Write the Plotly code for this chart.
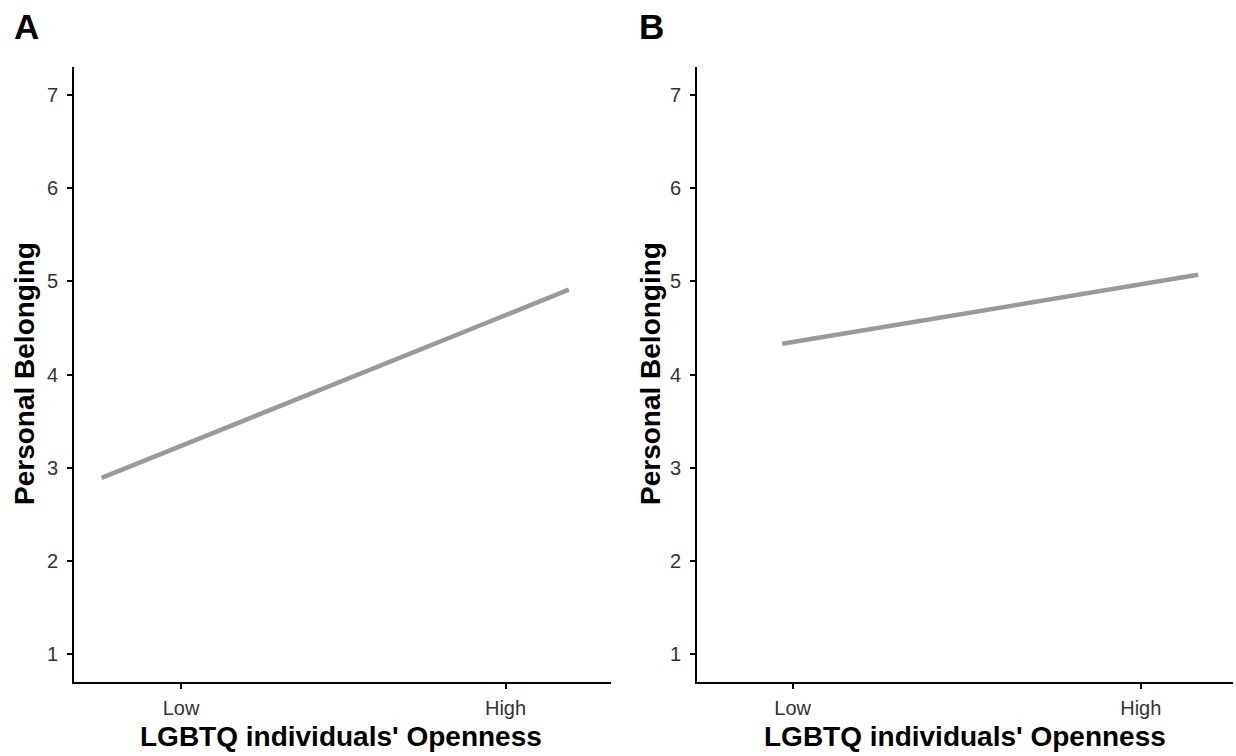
import plotly.graph_objects as go

# Data
openness_A = [-1.49, 1.39]
belonging_A = [2.89, 4.91]
openness_B = [-1.06, 1.33]
belonging_B = [4.33, 5.07]
x_tick_vals = [-1, 1]
x_tick_text = ["Low", "High"]
y_tick_vals = [1, 2, 3, 4, 5, 6, 7]

W, H = 1236, 756
def px(x): return x / W
def py(y): return 1 - y / H

line_color = "#999999"
fig = go.Figure()
fig.add_trace(go.Scatter(x=openness_A, y=belonging_A, mode="lines",
                         line=dict(color=line_color, width=4.5), xaxis="x", yaxis="y",
                         showlegend=False))
fig.add_trace(go.Scatter(x=openness_B, y=belonging_B, mode="lines",
                         line=dict(color=line_color, width=4.5), xaxis="x2", yaxis="y2",
                         showlegend=False))

axis_common = dict(showline=True, linecolor="black", linewidth=2, ticks="outside",
                   ticklen=5, tickwidth=2, tickcolor="black", showgrid=False, zeroline=False,
                   tickfont=dict(family="Liberation Sans, Arial", size=20, color="#333333"))

ydom = [py(682), py(67)]
fig.update_layout(
    width=W, height=H, margin=dict(l=0, r=0, t=0, b=0),
    plot_bgcolor="white", paper_bgcolor="white",
    xaxis=dict(domain=[px(74), px(611)], range=[-1.66, 1.65], tickvals=x_tick_vals,
               ticktext=x_tick_text, anchor="y", ticklabelstandoff=2, **axis_common),
    yaxis=dict(domain=ydom, range=[0.7, 7.3], tickvals=y_tick_vals, anchor="x",
               ticklabelstandoff=5, **axis_common),
    xaxis2=dict(domain=[px(697), px(1233)], range=[-1.55, 1.53], tickvals=x_tick_vals,
                ticktext=x_tick_text, anchor="y2", ticklabelstandoff=2, **axis_common),
    yaxis2=dict(domain=ydom, range=[0.7, 7.3], tickvals=y_tick_vals, anchor="x2",
                ticklabelstandoff=5, **axis_common),
)

title_font = dict(family="Liberation Sans, Arial", size=28, color="black")
ann = []
for cx in [341, 965]:
    ann.append(dict(x=px(cx), y=py(736), xref="paper", yref="paper",
                    text="<b>LGBTQ individuals' Openness</b>", showarrow=False,
                    font=title_font, xanchor="center", yanchor="middle"))
for cx in [25, 651]:
    ann.append(dict(x=px(cx), y=py(374), xref="paper", yref="paper",
                    text="<b>Personal Belonging</b>", showarrow=False, textangle=-90,
                    font=title_font, xanchor="center", yanchor="middle"))
for cx, lab in [(26, "A"), (651, "B")]:
    ann.append(dict(x=px(cx), y=py(26), xref="paper", yref="paper",
                    text=f"<b>{lab}</b>", showarrow=False,
                    font=dict(family="Liberation Sans, Arial", size=35, color="black"),
                    xanchor="center", yanchor="middle"))
fig.update_layout(annotations=ann)

fig.write_html("out.html")
